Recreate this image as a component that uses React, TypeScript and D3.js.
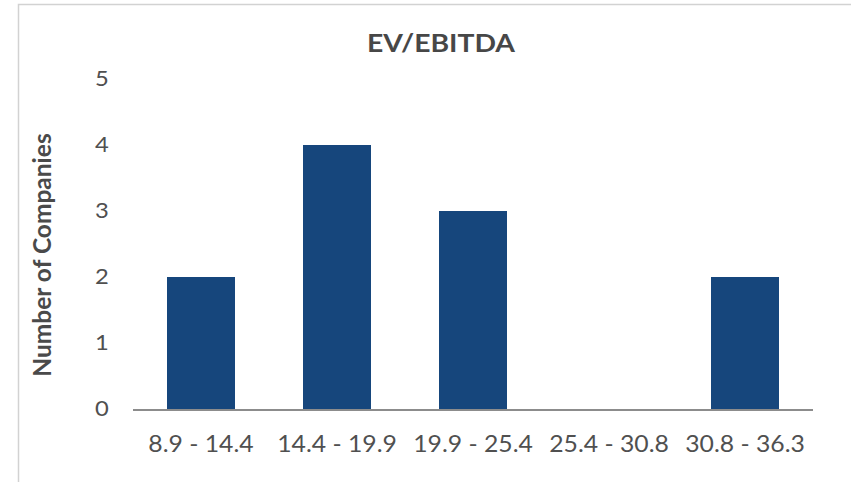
import React from "react";
import * as d3 from "d3";

const categories = ["8.9 - 14.4", "14.4 - 19.9", "19.9 - 25.4", "25.4 - 30.8", "30.8 - 36.3"];
const counts = [2, 4, 3, 0, 2];
const yTicks = [0, 1, 2, 3, 4, 5];

const W = 851;
const H = 482;
const M = { left: 133, right: 38, top: 79, bottom: 73 };

export default function App() {
  const x = d3
    .scaleBand<string>()
    .domain(categories)
    .range([M.left, W - M.right])
    .paddingInner(0.5)
    .paddingOuter(0.25);
  const y = d3.scaleLinear().domain([0, 5]).range([H - M.bottom, M.top]);
  const font = "Lato, 'Open Sans', sans-serif";
  return (
    <svg
      width={W}
      height={H}
      style={{ position: "absolute", left: 0, top: 0, background: "#fff" }}
      fontFamily={font}
    >
      <path d={`M18.5,${H} V4.5 H${W}`} fill="none" stroke="#d2d2d2" strokeWidth={1.5} />
      <text
        x={441}
        y={52}
        textAnchor="middle"
        fontSize={24}
        fontWeight={700}
        fill="#474747"
        textLength={148}
        lengthAdjust="spacingAndGlyphs"
      >
        EV/EBITDA
      </text>
      <text
        transform={`translate(51,255) rotate(-90)`}
        textAnchor="middle"
        fontSize={24.5}
        fontWeight={700}
        fill="#4a4a4a"
      >
        Number of Companies
      </text>
      {yTicks.map((t) => (
        <text
          key={t}
          transform={`translate(102,${y(t) - 1}) scale(1.08,1)`}
          dy="0.35em"
          textAnchor="middle"
          fontSize={22}
          fill="#505050"
        >
          {t}
        </text>
      ))}
      {categories.map((c, i) => (
        <rect key={c} x={x(c)} y={y(counts[i])} width={x.bandwidth()} height={y(0) - y(counts[i])} fill="#16467c" />
      ))}
      <line x1={M.left} x2={W - M.right} y1={y(0) + 1} y2={y(0) + 1} stroke="#8c8c8c" strokeWidth={2} />
      {categories.map((c) => (
        <text
          key={c}
          transform={`translate(${x(c)! + x.bandwidth() / 2},452) scale(1.1,1)`}
          textAnchor="middle"
          fontSize={22.5}
          fill="#505050"
        >
          {c}
        </text>
      ))}
    </svg>
  );
}
